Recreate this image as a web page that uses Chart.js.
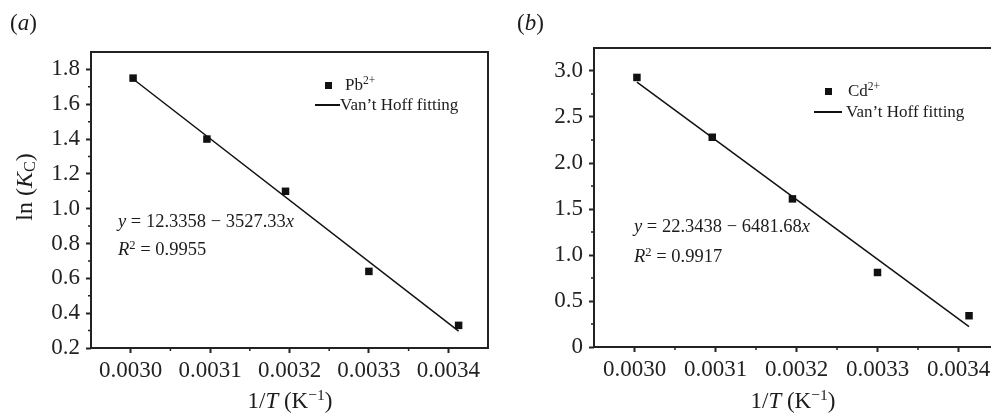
<!DOCTYPE html>
<html>
<head>
<meta charset="utf-8">
<script src="https://cdn.jsdelivr.net/npm/chart.js@4.4.1/dist/chart.umd.min.js"></script>
<style>
html, body { margin: 0; overflow: hidden; }
body { width: 991px; height: 414px; position: relative; background: #fff; font-family: "Liberation Serif", serif; color: #1c1c1c; }
canvas { position: absolute; top: 0; }
.t { position: absolute; line-height: 1; white-space: nowrap; }
.t sup { font-size: 0.68em; position: relative; top: -0.1em; vertical-align: top; }
.t sub { font-size: 0.68em; vertical-align: -0.2em; }
.sq { position: absolute; width: 7px; height: 7px; background: #111; }
.ln { position: absolute; height: 1.5px; background: #111; }
.rot { transform: translate(-50%, -50%) rotate(-90deg); }
.ctr { transform: translateX(-50%); }
</style>
</head>
<body>
<canvas id="chartA" width="500" height="414" style="left:0"></canvas>
<canvas id="chartB" width="520" height="414" style="left:500px"></canvas>

<!-- panel labels -->
<div class="t" style="left:10px; top:11px; font-size:23px">(<i>a</i>)</div>
<div class="t" style="left:517px; top:11px; font-size:23px">(<i>b</i>)</div>

<!-- axis titles -->
<div class="t rot" style="left:25px; top:187px; font-size:24px">ln (<i>K</i><sub>C</sub>)</div>
<div class="t ctr" style="left:290px; top:389px; font-size:23px">1/<i>T</i> (K<sup>−1</sup>)</div>
<div class="t ctr" style="left:793px; top:389px; font-size:23px">1/<i>T</i> (K<sup>−1</sup>)</div>

<!-- fit equations -->
<div class="t" style="left:118px; top:212px; font-size:18.5px"><i>y</i> = 12.3358 − 3527.33<i>x</i></div>
<div class="t" style="left:118px; top:240px; font-size:18.5px"><i>R</i><sup>2</sup> = 0.9955</div>
<div class="t" style="left:634px; top:217px; font-size:18.5px"><i>y</i> = 22.3438 − 6481.68<i>x</i></div>
<div class="t" style="left:634px; top:247px; font-size:18.5px"><i>R</i><sup>2</sup> = 0.9917</div>

<!-- legends -->
<div class="sq" style="left:325px; top:82px"></div>
<div class="t" style="left:345px; top:76px; font-size:17px">Pb<sup>2+</sup></div>
<div class="ln" style="left:315px; top:104px; width:25px"></div>
<div class="t" style="left:340px; top:96px; font-size:17px">Van’t Hoff fitting</div>

<div class="sq" style="left:825px; top:88px"></div>
<div class="t" style="left:848px; top:82px; font-size:17px">Cd<sup>2+</sup></div>
<div class="ln" style="left:814px; top:111px; width:28px"></div>
<div class="t" style="left:846px; top:103px; font-size:17px">Van’t Hoff fitting</div>

<script>
// 1/T values (K^-1) for 333, 323, 313, 303, 293 K
const invT = [0.003003, 0.003096, 0.003195, 0.0033, 0.003413];
const lnKcPb = [1.75, 1.40, 1.10, 0.64, 0.33];
const lnKcCd = [2.93, 2.28, 1.61, 0.81, 0.34];

// fitted line end points
const fitX = [0.003003, 0.003413];
const fitPb = [1.745, 0.297];
const fitCd = [2.879, 0.222];

const xTicks = [0.0030, 0.0031, 0.0032, 0.0033, 0.0034];
const xTickLabels = ['0.0030', '0.0031', '0.0032', '0.0033', '0.0034'];
const xMinor = [0.00305, 0.00315, 0.00325, 0.00335];

const yTicksA = [0.2, 0.4, 0.6, 0.8, 1.0, 1.2, 1.4, 1.6, 1.8];
const yTickLabelsA = ['0.2', '0.4', '0.6', '0.8', '1.0', '1.2', '1.4', '1.6', '1.8'];
const yMinorA = [0.3, 0.5, 0.7, 0.9, 1.1, 1.3, 1.5, 1.7];

const yTicksB = [0, 0.5, 1.0, 1.5, 2.0, 2.5, 3.0];
const yTickLabelsB = ['0', '0.5', '1.0', '1.5', '2.0', '2.5', '3.0'];
const yMinorB = [0.25, 0.75, 1.25, 1.75, 2.25, 2.75];

const ink = '#222';
const tickFont = { family: 'Liberation Serif', size: 23 };

// frame around the plot area + short minor ticks
const boxPlugin = {
  id: 'box',
  afterDraw(chart, args, o) {
    const { ctx, chartArea: a, scales } = chart;
    ctx.save();
    ctx.strokeStyle = ink;
    ctx.lineWidth = 2;
    ctx.strokeRect(a.left, a.top, a.right - a.left, a.bottom - a.top);
    ctx.lineWidth = 1.5;
    ctx.beginPath();
    o.xMinor.forEach(v => {
      const px = scales.x.getPixelForValue(v);
      ctx.moveTo(px, a.bottom);
      ctx.lineTo(px, a.bottom + 3);
    });
    o.yMinor.forEach(v => {
      const py = scales.y.getPixelForValue(v);
      ctx.moveTo(a.left, py);
      ctx.lineTo(a.left - 3, py);
    });
    ctx.stroke();
    ctx.restore();
  }
};

function makePanel(id, p) {
  const ctx = document.getElementById(id).getContext('2d');
  return new Chart(ctx, {
    type: 'scatter',
    data: {
      datasets: [{
        data: fitX.map((x, i) => ({ x: x, y: p.fit[i] })),
        showLine: true,
        borderColor: '#111',
        borderWidth: 1.5,
        pointRadius: 0,
        order: 0
      }, {
        data: invT.map((x, i) => ({ x: x, y: p.pts[i] })),
        pointStyle: 'rect',
        pointRadius: 5.3,
        backgroundColor: '#111',
        borderWidth: 0,
        order: 1
      }]
    },
    options: {
      responsive: false,
      animation: false,
      layout: { padding: p.pad },
      plugins: {
        legend: { display: false },
        tooltip: { enabled: false },
        box: { xMinor: xMinor, yMinor: p.yMinor }
      },
      scales: {
        x: {
          type: 'linear',
          min: p.xMin,
          max: p.xMax,
          afterBuildTicks: s => { s.ticks = xTicks.map(v => ({ value: v })); },
          afterFit: s => { s.height = p.xH; },
          ticks: {
            callback: (v, i) => xTickLabels[i],
            maxRotation: 0, minRotation: 0, autoSkip: false,
            padding: 4, font: tickFont, color: ink
          },
          grid: { drawOnChartArea: false, tickLength: 5, tickWidth: 2, tickColor: ink },
          border: { display: false }
        },
        y: {
          type: 'linear',
          min: p.yMin,
          max: p.yMax,
          afterBuildTicks: s => { s.ticks = p.yTicks.map(v => ({ value: v })); },
          afterFit: s => { s.width = p.yW; },
          ticks: {
            callback: (v, i) => p.yLabels[i],
            autoSkip: false,
            padding: 6, font: tickFont, color: ink
          },
          grid: { drawOnChartArea: false, tickLength: 5, tickWidth: 2, tickColor: ink },
          border: { display: false }
        }
      }
    },
    plugins: [boxPlugin]
  });
}

makePanel('chartA', {
  pts: lnKcPb, fit: fitPb,
  xMin: 0.00295, xMax: 0.00345,
  yMin: 0.2, yMax: 1.9,
  yTicks: yTicksA, yLabels: yTickLabelsA, yMinor: yMinorA,
  pad: { left: 0, top: 52, right: 12, bottom: 0 },
  yW: 91, xH: 66
});

makePanel('chartB', {
  pts: lnKcCd, fit: fitCd,
  xMin: 0.00295, xMax: 0.00345,
  yMin: 0, yMax: 3.25,
  yTicks: yTicksB, yLabels: yTickLabelsB, yMinor: yMinorB,
  pad: { left: 0, top: 48, right: 21, bottom: 0 },
  yW: 94, xH: 67
});
</script>
</body>
</html>
